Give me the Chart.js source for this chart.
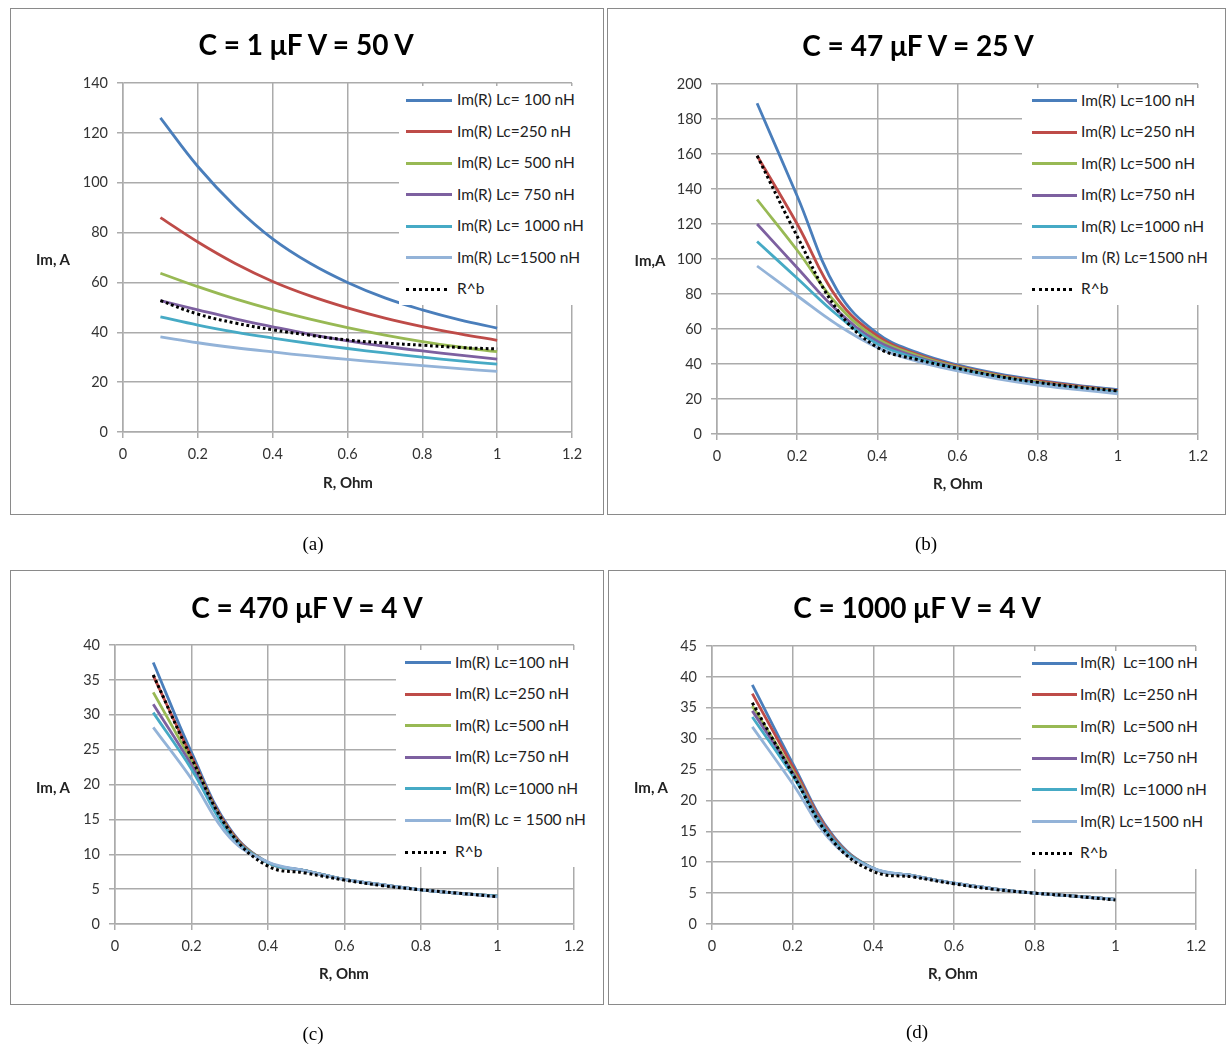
<!DOCTYPE html>
<html>
<head>
<meta charset="utf-8">
<script src="https://cdn.jsdelivr.net/npm/chart.js@4.4.0/dist/chart.umd.min.js"></script>
<style>
  body { margin: 0; background: #fff; width: 1227px; height: 1046px; position: relative; overflow: hidden; font-family: Lato, sans-serif; }
  .frame { position: absolute; border: 1.5px solid #8a8a8a; box-sizing: border-box; }
  .plot { position: absolute; }
  .txt { position: absolute; transform: translate(-50%, -50%); white-space: pre; line-height: 1; color: #000; }
  .title { font-weight: bold; font-size: 28px; }
  .axis { font-weight: bold; font-size: 15px; color: #222; }
  .caption { font-family: 'Liberation Serif', serif; font-size: 19px; }
  .legend { position: absolute; background: #fff; }
  .legend .swatch { position: absolute; height: 0; }
  .legend .label { position: absolute; transform: translateY(-50%); font-size: 15.5px; white-space: pre; line-height: 1; color: #222; }
</style>
</head>
<body>
<script>
// R, Ohm (same for every panel)
const rOhm = [0.1, 0.2, 0.3, 0.4, 0.5, 0.6, 0.7, 0.8, 0.9, 1.0];

// (a) C = 1 uF, V = 50 V
const imA_100  = [126, 106.5, 90.5, 77.5, 67.7, 60, 53.8, 49, 45, 41.7];
const imA_250  = [86, 76.2, 67.6, 60.4, 54.6, 49.8, 45.7, 42.3, 39.4, 36.8];
const imA_500  = [63.7, 58.3, 53.4, 49.1, 45.3, 41.9, 38.9, 36.3, 34.1, 32.2];
const imA_750  = [52.7, 49, 45.4, 42.2, 39.2, 36.6, 34.4, 32.5, 30.8, 29.2];
const imA_1000 = [46.2, 42.9, 40.1, 37.7, 35.5, 33.5, 31.7, 30, 28.5, 27.2];
const imA_1500 = [38.2, 35.8, 33.8, 32.1, 30.5, 29.1, 27.8, 26.6, 25.4, 24.3];
const imA_fit  = [52.7, 47.3, 43.7, 41, 38.8, 36.9, 35.7, 34.8, 33.9, 33.3];

// (b) C = 47 uF, V = 25 V
const imB_100  = [189, 136, 82, 57.5, 46.5, 39.5, 34.5, 30.8, 27.8, 25.3];
const imB_250  = [159, 120, 77.5, 56, 45.5, 38.8, 33.8, 30.3, 27.3, 24.8];
const imB_500  = [134, 105, 74, 54.5, 44.8, 38.3, 33.3, 29.8, 26.9, 24.4];
const imB_750  = [120, 95, 70.5, 53, 44, 37.8, 32.8, 29.3, 26.5, 24];
const imB_1000 = [110, 89, 68, 51.5, 43.2, 37.2, 32.3, 28.8, 26, 23.6];
const imB_1500 = [96, 79, 62.5, 49.5, 41.5, 36, 31.5, 28, 25.4, 23];
const imB_fit  = [159, 113, 71, 49.5, 42.5, 37.5, 33, 29.5, 26.8, 24.6];

// (c) C = 470 uF, V = 4 V
const imC_100  = [37.5, 24.6, 13.7, 8.8, 7.6, 6.4, 5.6, 4.9, 4.4, 4.0];
const imC_250  = [35.6, 24, 13.5, 8.8, 7.6, 6.4, 5.6, 4.9, 4.4, 4.0];
const imC_500  = [33.2, 23.4, 13.3, 8.8, 7.6, 6.4, 5.6, 4.9, 4.4, 4.0];
const imC_750  = [31.5, 22.8, 13.1, 8.8, 7.6, 6.4, 5.6, 4.9, 4.4, 4.0];
const imC_1000 = [30.3, 22.2, 12.9, 8.8, 7.6, 6.4, 5.6, 4.9, 4.4, 4.0];
const imC_1500 = [28.2, 20.8, 12.4, 8.9, 7.6, 6.4, 5.6, 4.9, 4.4, 3.9];
const imC_fit  = [35.7, 23.8, 13.3, 8.3, 7.3, 6.3, 5.5, 4.9, 4.4, 3.9];

// (d) C = 1000 uF, V = 4 V
const imD_100  = [38.7, 26, 14.3, 9.0, 7.8, 6.6, 5.7, 5.0, 4.5, 4.0];
const imD_250  = [37.3, 25.5, 14.1, 9.0, 7.8, 6.6, 5.7, 5.0, 4.5, 4.0];
const imD_500  = [35.3, 24.8, 13.9, 9.0, 7.8, 6.6, 5.7, 5.0, 4.5, 4.0];
const imD_750  = [34.5, 24.5, 13.8, 9.0, 7.8, 6.6, 5.7, 5.0, 4.5, 4.0];
const imD_1000 = [33.5, 24, 13.6, 9.0, 7.8, 6.6, 5.7, 5.0, 4.5, 4.0];
const imD_1500 = [31.9, 22.7, 13.1, 9.0, 7.8, 6.6, 5.7, 5.0, 4.5, 4.0];
const imD_fit  = [35.8, 24.3, 13.4, 8.5, 7.6, 6.5, 5.6, 5.0, 4.5, 3.9];

// legend texts
const labelsA = ['Im(R) Lc= 100 nH', 'Im(R) Lc=250 nH', 'Im(R) Lc= 500 nH', 'Im(R) Lc= 750 nH', 'Im(R) Lc= 1000 nH', 'Im(R) Lc=1500 nH', 'R^b'];
const labelsB = ['Im(R) Lc=100 nH', 'Im(R) Lc=250 nH', 'Im(R) Lc=500 nH', 'Im(R) Lc=750 nH', 'Im(R) Lc=1000 nH', 'Im (R) Lc=1500 nH', 'R^b'];
const labelsC = ['Im(R) Lc=100 nH', 'Im(R) Lc=250 nH', 'Im(R) Lc=500 nH', 'Im(R) Lc=750 nH', 'Im(R) Lc=1000 nH', 'Im(R) Lc = 1500 nH', 'R^b'];
const labelsD = ['Im(R)  Lc=100 nH', 'Im(R)  Lc=250 nH', 'Im(R)  Lc=500 nH', 'Im(R)  Lc=750 nH', 'Im(R)  Lc=1000 nH', 'Im(R) Lc=1500 nH', 'R^b'];

const titles = ['C = 1 \u03bcF V = 50 V', 'C = 47 \u03bcF V = 25 V', 'C = 470 \u03bcF V = 4 V', 'C = 1000 \u03bcF V = 4 V'];
const yTitles = ['Im, A', 'Im,A', 'Im, A', 'Im, A'];
const xTitle = 'R, Ohm';
const captions = ['(a)', '(b)', '(c)', '(d)'];
const yMax = [140, 200, 40, 45];
const yStep = [20, 20, 5, 5];

const seriesColors = ['#4a7ebb', '#be4b48', '#98b954', '#7d60a0', '#46aac5', '#93b3d8', '#000000'];
const gridColor = '#ababab';
const tickColor = '#333';

// page layout for each panel
const panels = [
  { frame: [10, 8, 594, 507], pad: { left: 68, top: 75, right: 32, bottom: 53 },
    title: [306, 44], yT: [53, 259], xT: [348, 482], cap: [313, 543],
    legend: { x: 399, y: 86, w: 192, h: 219, row0: 100, step: 31.55, lineX: 406, lineW: 46, textX: 457 } },
  { frame: [607, 8, 619, 507], pad: { left: 65, top: 76, right: 28, bottom: 51 },
    title: [918, 45], yT: [650, 260], xT: [958, 483], cap: [926, 543],
    legend: { x: 1022, y: 88, w: 194, h: 217, row0: 100.7, step: 31.45, lineX: 1032, lineW: 45, textX: 1081 } },
  { frame: [10, 570, 594, 435], pad: { left: 60, top: 75, right: 30, bottom: 51 },
    title: [307, 607], yT: [53, 787], xT: [344, 973], cap: [313, 1033],
    legend: { x: 396, y: 650, w: 196, h: 217, row0: 662.7, step: 31.55, lineX: 405, lineW: 46, textX: 455 } },
  { frame: [608, 570, 618, 435], pad: { left: 59, top: 76, right: 30, bottom: 51 },
    title: [917, 607], yT: [651, 787], xT: [953, 973], cap: [917, 1031],
    legend: { x: 1021, y: 651, w: 195, h: 218, row0: 663.3, step: 31.67, lineX: 1032, lineW: 45, textX: 1080 } }
];

const panelSeries = [
  [imA_100, imA_250, imA_500, imA_750, imA_1000, imA_1500, imA_fit],
  [imB_100, imB_250, imB_500, imB_750, imB_1000, imB_1500, imB_fit],
  [imC_100, imC_250, imC_500, imC_750, imC_1000, imC_1500, imC_fit],
  [imD_100, imD_250, imD_500, imD_750, imD_1000, imD_1500, imD_fit]
];
const panelLabels = [labelsA, labelsB, labelsC, labelsD];

function addText(cls, text, x, y) {
  const el = document.createElement('div');
  el.className = 'txt ' + cls;
  el.textContent = text;
  el.style.left = x + 'px';
  el.style.top = y + 'px';
  document.body.appendChild(el);
}

function buildDatasets(labels, valueSets) {
  const last = valueSets.length - 1;
  return valueSets.map((vals, i) => ({
    label: labels[i],
    data: rOhm.map((r, k) => ({ x: r, y: vals[k] })),
    borderColor: seriesColors[i],
    borderWidth: i === last ? 3 : 2.8,
    borderDash: i === last ? [2.8, 2.8] : [],
    pointRadius: 0,
    fill: false,
    tension: 0.4,
    order: i === last ? 0 : last - i
  }));
}

function buildLegend(p, labels) {
  const lg = p.legend;
  const box = document.createElement('div');
  box.className = 'legend';
  Object.assign(box.style, { left: lg.x + 'px', top: lg.y + 'px', width: lg.w + 'px', height: lg.h + 'px' });
  labels.forEach((text, i) => {
    const cy = lg.row0 + i * lg.step - lg.y;
    const isFit = i === labels.length - 1;
    const sw = document.createElement('div');
    sw.className = 'swatch';
    sw.style.left = (lg.lineX - lg.x) + 'px';
    sw.style.top = (cy - 1.5) + 'px';
    sw.style.width = (isFit ? lg.lineW - 5 : lg.lineW) + 'px';
    sw.style.borderTop = isFit ? '3px dotted #000' : '3.5px solid ' + seriesColors[i];
    box.appendChild(sw);
    const lb = document.createElement('div');
    lb.className = 'label';
    lb.textContent = text;
    lb.style.left = (lg.textX - lg.x) + 'px';
    lb.style.top = cy + 'px';
    box.appendChild(lb);
  });
  document.body.appendChild(box);
}

function buildPanel(idx) {
  const p = panels[idx];
  const [fx, fy, fw, fh] = p.frame;

  const wrap = document.createElement('div');
  wrap.className = 'plot';
  Object.assign(wrap.style, { left: fx + 'px', top: fy + 'px', width: fw + 'px', height: fh + 'px' });
  const canvas = document.createElement('canvas');
  wrap.appendChild(canvas);
  document.body.appendChild(wrap);

  const frame = document.createElement('div');
  frame.className = 'frame';
  Object.assign(frame.style, { left: fx + 'px', top: fy + 'px', width: fw + 'px', height: fh + 'px' });
  document.body.appendChild(frame);

  const tickFont = { family: 'Lato', size: 14.5 };

  new Chart(canvas.getContext('2d'), {
    type: 'line',
    data: { datasets: buildDatasets(panelLabels[idx], panelSeries[idx]) },
    options: {
      responsive: true,
      maintainAspectRatio: false,
      animation: false,
      layout: { padding: p.pad },
      plugins: { legend: { display: false }, tooltip: { enabled: false } },
      scales: {
        x: {
          type: 'linear', min: 0, max: 1.2,
          ticks: { stepSize: 0.2, font: tickFont, color: tickColor, padding: 8, maxRotation: 0,
                   callback: v => String(Math.round(v * 10) / 10) },
          grid: { color: gridColor, lineWidth: 1.5, tickLength: 6 },
          border: { color: gridColor, width: 1.5 },
          afterFit(s) { s.height = 30; s.paddingLeft = 0; s.paddingRight = 0; }
        },
        y: {
          type: 'linear', min: 0, max: yMax[idx],
          ticks: { stepSize: yStep[idx], font: tickFont, color: tickColor, padding: 9 },
          grid: { color: gridColor, lineWidth: 1.5, tickLength: 6 },
          border: { color: gridColor, width: 1.5 },
          afterFit(s) { s.width = 45; s.paddingTop = 0; s.paddingBottom = 0; }
        }
      }
    }
  });

  buildLegend(p, panelLabels[idx]);
  addText('title', titles[idx], p.title[0], p.title[1]);
  addText('axis', yTitles[idx], p.yT[0], p.yT[1]);
  addText('axis', xTitle, p.xT[0], p.xT[1]);
  addText('caption', captions[idx], p.cap[0], p.cap[1]);
}

panels.forEach((p, i) => buildPanel(i));
</script>
</body>
</html>
